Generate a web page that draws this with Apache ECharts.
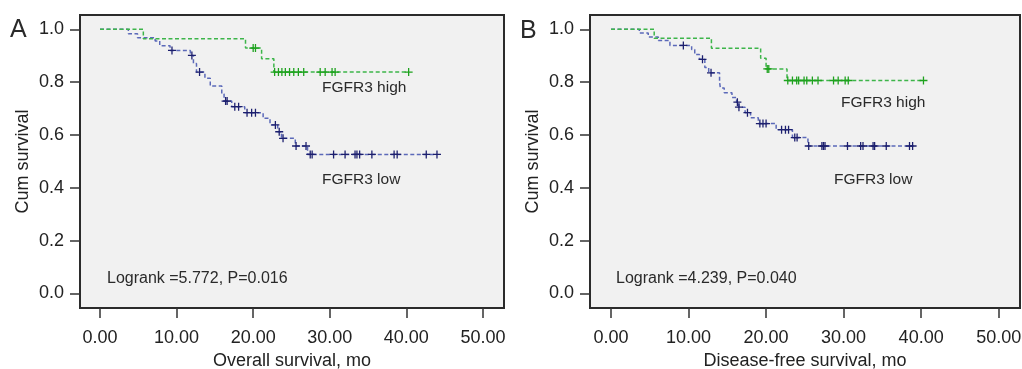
<!DOCTYPE html>
<html>
<head>
<meta charset="utf-8">
<script src="https://cdn.jsdelivr.net/npm/echarts@6/dist/echarts.min.js"></script>
<style>html,body{margin:0;padding:0;background:#fff}#c{width:1022px;height:369px}</style>
</head>
<body>
<div id="c"></div>
<script>
// ---- tick labels ----
const xTicks = [0, 10, 20, 30, 40, 50];
const yTicks = [0, 0.2, 0.4, 0.6, 0.8, 1.0];

// ---- Panel A: Overall survival ----
const osHighSteps = [[0,1.0],[5.66,0.964],[19.0,0.929],[21.1,0.888],[22.7,0.838],[40.2,0.838]];
const osHighCensor = [[20.0,0.929],[20.3,0.929],[22.8,0.838],[23.3,0.838],[23.75,0.838],[24.2,0.838],[24.75,0.838],[25.3,0.838],[25.9,0.838],[26.6,0.838],[28.75,0.838],[29.4,0.838],[30.3,0.838],[30.7,0.838],[40.3,0.838]];
const osLowSteps = [[0,1.0],[3.7,0.983],[4.9,0.968],[7.2,0.956],[7.8,0.938],[9.15,0.920],[11.8,0.901],[12.2,0.870],[12.6,0.838],[13.7,0.815],[14.4,0.785],[15.9,0.755],[16.2,0.728],[17.2,0.707],[18.9,0.684],[21.3,0.663],[22.2,0.638],[23.2,0.612],[23.7,0.587],[25.5,0.558],[27.1,0.526],[44.0,0.526]];
const osLowCensor = [[9.4,0.920],[12.0,0.901],[13.0,0.838],[16.4,0.728],[16.6,0.728],[17.6,0.707],[18.1,0.707],[19.2,0.684],[19.8,0.684],[20.3,0.684],[22.9,0.638],[23.4,0.612],[23.9,0.587],[25.6,0.558],[26.9,0.558],[27.45,0.526],[27.7,0.526],[30.5,0.526],[32.0,0.526],[33.3,0.526],[33.55,0.526],[33.9,0.526],[35.5,0.526],[38.4,0.526],[38.8,0.526],[42.6,0.526],[44.0,0.526]];

// ---- Panel B: Disease-free survival ----
const dfsHighSteps = [[0,1.0],[5.57,0.966],[12.95,0.928],[19.3,0.890],[20.0,0.850],[22.7,0.806],[40.3,0.806]];
const dfsHighCensor = [[20.15,0.850],[20.35,0.850],[22.8,0.806],[23.4,0.806],[23.95,0.806],[24.2,0.806],[24.9,0.806],[25.25,0.806],[25.97,0.806],[26.7,0.806],[28.7,0.806],[29.3,0.806],[30.2,0.806],[30.6,0.806],[40.3,0.806]];
const dfsLowSteps = [[0,1.0],[3.65,0.986],[4.8,0.971],[6.1,0.957],[7.6,0.939],[10.4,0.923],[10.8,0.904],[11.4,0.886],[12.1,0.855],[12.6,0.835],[14.0,0.800],[14.1,0.778],[14.6,0.760],[15.6,0.742],[16.2,0.724],[16.5,0.705],[17.3,0.684],[18.0,0.665],[19.0,0.643],[21.3,0.620],[23.4,0.590],[25.4,0.558],[38.9,0.558]];
const dfsLowCensor = [[9.33,0.939],[11.8,0.886],[12.9,0.835],[16.3,0.724],[16.5,0.705],[17.6,0.684],[19.2,0.643],[19.6,0.643],[20.0,0.643],[22.0,0.620],[22.5,0.620],[22.9,0.620],[23.7,0.590],[24.0,0.590],[25.5,0.558],[27.2,0.558],[27.4,0.558],[27.6,0.558],[30.5,0.558],[32.2,0.558],[32.5,0.558],[33.8,0.558],[34.0,0.558],[35.5,0.558],[38.5,0.558],[38.9,0.558]];

const FONT = '"Liberation Sans", Arial, Helvetica, sans-serif';
const PLUS = 'path://M4.2,0h1.6v4.2h4.2v1.6h-4.2v4.2h-1.6v-4.2h-4.2v-1.6h4.2z';
const LOW_LINE = '#5b69b9', LOW_MARK = '#1c1f6e';
const HIGH_LINE = '#3db54a', HIGH_MARK = '#1ea21e';

function xAxis(gi, min, name) {
  return {
    type: 'value', gridIndex: gi, min: min, max: 52.75, position: 'bottom',
    name: name, nameLocation: 'middle', nameGap: 42,
    nameTextStyle: {fontSize: 18, color: '#222', fontFamily: FONT},
    axisLine: {show: false, onZero: false},
    axisTick: {show: true, inside: false, length: 10, lineStyle: {color: '#333', width: 1.5}, customValues: xTicks},
    axisLabel: {fontSize: 18, color: '#222', fontFamily: FONT, margin: 21, customValues: xTicks,
      formatter: v => v.toFixed(2)},
    splitLine: {show: false}
  };
}
function yAxis(gi) {
  return {
    type: 'value', gridIndex: gi, min: -0.0553, max: 1.054, position: 'left',
    name: 'Cum survival', nameLocation: 'middle', nameGap: 48,
    nameTextStyle: {fontSize: 18, color: '#222', fontFamily: FONT},
    axisLine: {show: false, onZero: false},
    axisTick: {show: true, inside: false, length: 10, lineStyle: {color: '#333', width: 1.5}, customValues: yTicks},
    axisLabel: {fontSize: 18, color: '#222', fontFamily: FONT, margin: 16, customValues: yTicks,
      formatter: v => v.toFixed(1)},
    splitLine: {show: false}
  };
}
function stepLine(gi, data, color, z) {
  return {type: 'line', xAxisIndex: gi, yAxisIndex: gi, data: data, step: 'end', showSymbol: false,
    symbol: 'none', silent: true, z: z,
    lineStyle: {color: color, width: 1.5, type: [4, 2.5]}};
}
function censor(gi, data, color, z) {
  return {type: 'scatter', xAxisIndex: gi, yAxisIndex: gi, data: data, symbol: PLUS, symbolSize: 8,
    silent: true, z: z, itemStyle: {color: color, opacity: 1}};
}
function txt(x, y, s, size) {
  return {type: 'text', x: x, y: y, silent: true,
    style: {text: s, fontSize: size, fontFamily: FONT, fill: '#2a2a2a', verticalAlign: 'middle', align: 'left'}};
}

const chart = echarts.init(document.getElementById('c'), null, {renderer: 'canvas'});
chart.setOption({
  animation: false,
  backgroundColor: '#ffffff',
  grid: [
    {left: 80, top: 15, width: 424, height: 293, outerBoundsMode: 'none', containLabel: false, show: true, backgroundColor: '#f1f1f1', borderColor: '#2b2b2b', borderWidth: 2},
    {left: 590, top: 15, width: 430, height: 293, outerBoundsMode: 'none', containLabel: false, show: true, backgroundColor: '#f1f1f1', borderColor: '#2b2b2b', borderWidth: 2}
  ],
  xAxis: [xAxis(0, -2.61, 'Overall survival, mo'), xAxis(1, -2.71, 'Disease-free survival, mo')],
  yAxis: [yAxis(0), yAxis(1)],
  series: [
    stepLine(0, osLowSteps, LOW_LINE, 2), censor(0, osLowCensor, LOW_MARK, 3),
    stepLine(0, osHighSteps, HIGH_LINE, 4), censor(0, osHighCensor, HIGH_MARK, 5),
    stepLine(1, dfsLowSteps, LOW_LINE, 2), censor(1, dfsLowCensor, LOW_MARK, 3),
    stepLine(1, dfsHighSteps, HIGH_LINE, 4), censor(1, dfsHighCensor, HIGH_MARK, 5)
  ],
  graphic: [
    txt(10, 30, 'A', 25),
    txt(520, 31, 'B', 25),
    txt(322, 88, 'FGFR3 high', 15.5),
    txt(322, 180, 'FGFR3 low', 15.5),
    txt(107, 279, 'Logrank =5.772, P=0.016', 16),
    txt(841, 103, 'FGFR3 high', 15.5),
    txt(834, 180, 'FGFR3 low', 15.5),
    txt(616, 279, 'Logrank =4.239, P=0.040', 16)
  ]
});
</script>
</body>
</html>
